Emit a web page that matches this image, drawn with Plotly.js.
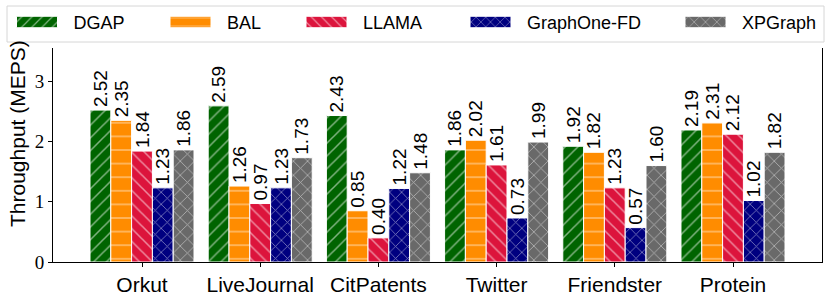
<!DOCTYPE html>
<html><head><meta charset="utf-8">
<script src="https://cdn.plot.ly/plotly-3.0.1.min.js"></script>
<style>html,body{margin:0;padding:0;background:#fff;}#chart{width:831px;height:299px;}</style>
</head><body><div id="chart"></div>
<script>
// ---- data ----
const categories = ['Orkut', 'LiveJournal', 'CitPatents', 'Twitter', 'Friendster', 'Protein'];
const seriesNames = ['DGAP', 'BAL', 'LLAMA', 'GraphOne-FD', 'XPGraph'];
const dgap     = [2.52, 2.59, 2.43, 1.86, 1.92, 2.19];
const bal      = [2.35, 1.26, 0.85, 2.02, 1.82, 2.31];
const llama    = [1.84, 0.97, 0.40, 1.61, 1.23, 2.12];
const graphone = [1.23, 1.23, 1.22, 0.73, 0.57, 1.02];
const xpgraph  = [1.86, 1.73, 1.48, 1.99, 1.60, 1.82];
const yTickVals = [0, 1, 2, 3];
const yTitle = 'Throughput (MEPS)';

// ---- style ----
const seriesValues = [dgap, bal, llama, graphone, xpgraph];
const colors = ['#006400', '#FF8C00', '#DC143C', '#000080', '#696969'];
const shapes = ['/', '-', '\\', 'x', 'x'];
const psizes = [9, 13.6, 9, 8.5, 10];
const psolid = [0.17, 0.1, 0.17, 0.18, 0.16];
const legendNames = ['legend', 'legend2', 'legend3', 'legend4', 'legend5'];
const legendLeft = [0.5, 154, 290, 454, 669];   // px, legend layout
const legendMidY = 22.3;
const ITEMW = 63;
const SANS = 'Liberation Sans, Arial, sans-serif';
const L = 53, R = 9, T = 48, B = 37, W = 831, H = 299;
const pw = W - L - R, ph = H - T - B;
const px2x = p => (p - L) / pw;
const py2y = p => (H - B - p) / ph;

const traces = seriesValues.map((vals, i) => ({
  type: 'bar',
  name: seriesNames[i],
  x: categories,
  y: vals,
  legend: legendNames[i],
  marker: {
    color: colors[i],
    line: {color: 'white', width: 1},
    pattern: {shape: shapes[i], fgcolor: 'white', fillmode: 'overlay', size: psizes[i], solidity: psolid[i]}
  },
  text: vals.map(v => v.toFixed(2)),
  textposition: 'outside',
  textangle: -90,
  constraintext: 'none',
  cliponaxis: false,
  textfont: {family: SANS, size: 19, color: '#000'},
  hoverinfo: 'skip'
}));

const layout = {
  width: W, height: H,
  margin: {l: L, r: R, t: T, b: B, pad: 0, autoexpand: false},
  paper_bgcolor: '#fff', plot_bgcolor: '#fff',
  barmode: 'group', bargap: 0.12, bargroupgap: 0,
  showlegend: true,
  font: {family: SANS, color: '#000'},
  xaxis: {
    range: [-0.753, 5.753], showline: true, linecolor: '#000', linewidth: 1,
    ticks: 'outside', ticklen: 4, tickwidth: 1, tickcolor: '#000',
    tickfont: {family: SANS, size: 21, color: '#000'},
    showgrid: false, zeroline: false, fixedrange: true, automargin: false
  },
  yaxis: {
    range: [0, 3.55], tickvals: yTickVals, ticktext: yTickVals.map(String),
    showline: true, mirror: true, linecolor: '#000', linewidth: 1,
    ticks: 'outside', ticklen: 4, tickwidth: 1, tickcolor: '#000',
    tickfont: {family: 'Liberation Serif, Times New Roman, serif', size: 19, color: '#000'},
    showgrid: false, zeroline: false, fixedrange: true, automargin: false
  },
  shapes: [{
    type: 'rect', xref: 'paper', yref: 'paper', layer: 'above',
    x0: px2x(7), x1: px2x(824), y0: py2y(42), y1: py2y(6),
    line: {color: '#d6d6d6', width: 1}, fillcolor: 'rgba(255,255,255,1)'
  }],
  annotations: [{
    text: yTitle, textangle: -90, showarrow: false,
    xref: 'paper', yref: 'paper', x: px2x(17), y: py2y(134),
    xanchor: 'center', yanchor: 'middle',
    font: {family: SANS, size: 21, color: '#000'}
  }]
};
legendNames.forEach((ln, i) => {
  layout[ln] = {
    x: px2x(legendLeft[i]), xanchor: 'left',
    y: py2y(legendMidY), yanchor: 'middle',
    bgcolor: 'rgba(0,0,0,0)', borderwidth: 0,
    itemwidth: ITEMW,
    font: {family: SANS, size: 18, color: '#000'}
  };
});

// widen legend swatches to long flat bars
function widenSwatches(gd) {
  gd.querySelectorAll('g.legendpoints path').forEach(p => {
    p.setAttribute('d', 'M20.5,5.75H-20.5V-5.75H20.5Z');
  });
}

const gdiv = document.getElementById('chart');
Plotly.newPlot(gdiv, traces, layout, {displayModeBar: false, staticPlot: true}).then(gd => {
  widenSwatches(gd);
  gd.on('plotly_afterplot', () => widenSwatches(gd));
  setTimeout(() => widenSwatches(gd), 50);
});
</script>
</body></html>
